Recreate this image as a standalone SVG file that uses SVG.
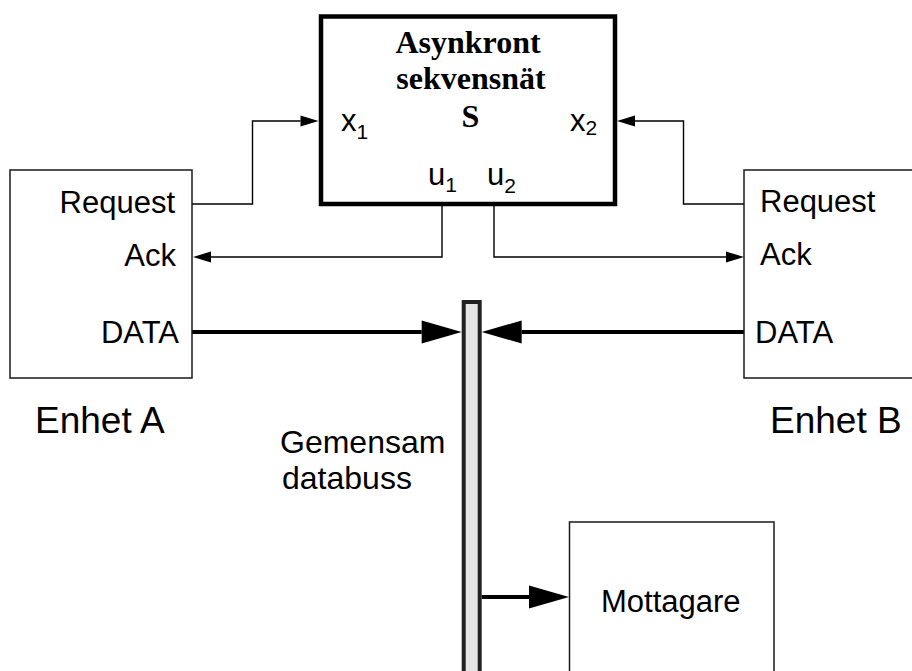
<svg xmlns="http://www.w3.org/2000/svg" width="912" height="671" viewBox="0 0 912 671">
<style>
.box{fill:#fff;stroke:#1a1a1a;stroke-width:1.5}
.sbox{fill:#fff;stroke:#000;stroke-width:4.5}
.bus{fill:#e6e6e6;stroke:#222;stroke-width:4}
.t{font-family:"Liberation Sans",Arial,sans-serif;font-size:31px;fill:#000}
.big{font-size:37px}
.mid{font-size:32px}
.sub{font-size:21px}
.ser{font-family:"Liberation Serif","Times New Roman",serif;font-weight:bold;font-size:32px;fill:#000}
.thin{fill:none;stroke:#000;stroke-width:1.4;marker-end:url(#sa)}
.thick{fill:none;stroke:#000;stroke-width:4;marker-end:url(#la)}
</style>
<defs>
<marker id="sa" markerUnits="userSpaceOnUse" markerWidth="19" markerHeight="12" refX="0" refY="5.5" orient="auto" overflow="visible">
<path d="M0,0 L18,5.5 L0,11 z" fill="#000"/>
</marker>
<marker id="la" markerUnits="userSpaceOnUse" markerWidth="41" markerHeight="24" refX="0" refY="11.5" orient="auto" overflow="visible">
<path d="M0,0 L40,11.5 L0,23 z" fill="#000"/>
</marker>
</defs>

<g id="connectors">
<polyline class="thin" points="192,204 252.5,204 252.5,121 300.5,121"/>
<polyline class="thin" points="744,204 683.5,204 683.5,121 635,121"/>
<polyline class="thin" points="442,204 442,257 211,257"/>
<polyline class="thin" points="494,204 494,257 726,257"/>
<line class="thick" x1="190" y1="332" x2="421.7" y2="332"/>
<line class="thick" x1="745" y1="332" x2="521.7" y2="332"/>
<line class="thick" x1="481.7" y1="597" x2="529" y2="597"/>
</g>

<g id="S">
<rect class="sbox" x="321" y="16.5" width="294" height="187.5"/>
<text class="ser" x="468" y="53" text-anchor="middle">Asynkront</text>
<text class="ser" x="471" y="89" text-anchor="middle">sekvensnät</text>
<text class="ser" x="470.5" y="127" text-anchor="middle">S</text>
<text class="t" x="341" y="131">x<tspan class="sub" dy="8">1</tspan></text>
<text class="t" x="570" y="131">x<tspan class="sub" dy="4">2</tspan></text>
<text class="t" x="428" y="185">u<tspan class="sub" dy="6.5">1</tspan></text>
<text class="t" x="487" y="185">u<tspan class="sub" dy="7.5">2</tspan></text>
</g>

<g id="enhetA">
<rect class="box" x="10" y="170" width="182" height="208"/>
<text class="t" x="175" y="213" text-anchor="end">Request</text>
<text class="t" x="176" y="266" text-anchor="end">Ack</text>
<text class="t" x="179" y="343" text-anchor="end">DATA</text>
<text class="t big" x="35" y="433">Enhet A</text>
</g>

<g id="enhetB">
<rect class="box" x="744" y="170" width="200" height="208"/>
<text class="t" x="760" y="212">Request</text>
<text class="t" x="760" y="265">Ack</text>
<text class="t" x="755" y="343">DATA</text>
<text class="t big" x="770" y="433">Enhet B</text>
</g>

<g id="bus">
<rect class="bus" x="463.7" y="302" width="16" height="400"/>
<text class="t mid" x="280" y="453">Gemensam</text>
<text class="t mid" x="282" y="489">databuss</text>
</g>

<g id="mottagare">
<rect class="box" x="569.5" y="522" width="204.5" height="200"/>
<text class="t" x="601" y="612">Mottagare</text>
</g>
</svg>
